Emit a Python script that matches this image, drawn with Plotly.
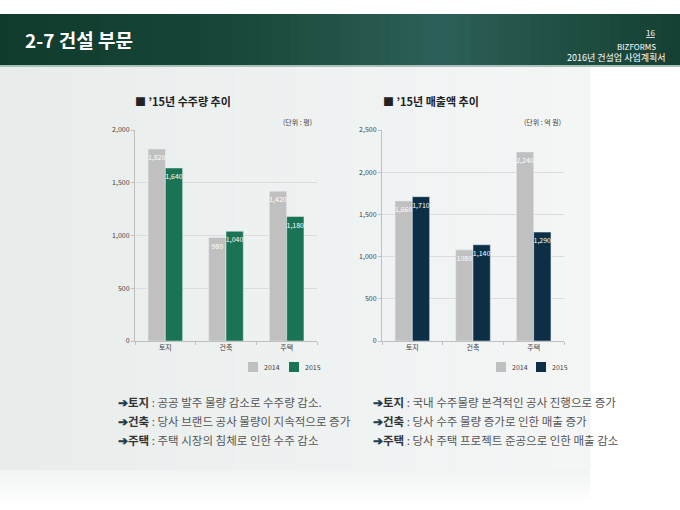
import plotly.graph_objects as go

# 데이터
categories = ["토지", "건축", "주택"]
series_names = ["2014", "2015"]
orders_2014 = [1820, 980, 1420]
orders_2015 = [1640, 1040, 1180]
sales_2014 = [1660, 1080, 2240]
sales_2015 = [1710, 1140, 1290]
orders_labels_2014 = ["1,820", "980", "1,420"]
orders_labels_2015 = ["1,640", "1,040", "1,180"]
sales_labels_2014 = ["1,660", "1080", "2,240"]
sales_labels_2015 = ["1,710", "1,140", "1,290"]

notes_left = [
    ("토지", "공공 발주 물량 감소로 수주량 감소."),
    ("건축", "당사 브랜드 공사 물량이 지속적으로 증가"),
    ("주택", "주택 시장의 침체로 인한 수주 감소"),
]
notes_right = [
    ("토지", "국내 수주물량 본격적인 공사 진행으로 증가"),
    ("건축", "당사 수주 물량 증가로 인한 매출 증가"),
    ("주택", "당사 주택 프로젝트 준공으로 인한 매출 감소"),
]

W, H = 680, 510
KR = "Noto Sans CJK KR"
GRAY = "#c0c0c0"
GREEN = "#1b7356"
NAVY = "#0d2f45"


def px(x):
    return x / W


def py(y):
    return 1 - y / H


fig = go.Figure()

bar_font = dict(family=KR, size=7, color="white")


def add_bars(values, labels, name, color, xa, ya):
    fig.add_trace(go.Bar(x=categories, y=values, name=name, marker_color=color,
                         text=labels, textposition="inside", insidetextanchor="end",
                         textangle=0, constraintext="none", textfont=bar_font,
                         xaxis=xa, yaxis=ya, showlegend=False, hoverinfo="x+y"))


add_bars(orders_2014, orders_labels_2014, series_names[0], GRAY, "x", "y")
add_bars(orders_2015, orders_labels_2015, series_names[1], GREEN, "x", "y")
add_bars(sales_2014, sales_labels_2014, series_names[0], GRAY, "x2", "y2")
add_bars(sales_2015, sales_labels_2015, series_names[1], NAVY, "x2", "y2")

xax = dict(showline=True, linecolor="#bfbfbf", linewidth=1, ticks="outside", tickson="boundaries",
           ticklen=3, tickcolor="#bfbfbf", tickfont=dict(family=KR, size=7, color="#404040"),
           showgrid=False, fixedrange=True, automargin=False)
yax = dict(showline=True, linecolor="#bfbfbf", linewidth=1, gridcolor="#dcdcdc", gridwidth=1,
           tickfont=dict(family=KR, size=7, color="#404040"), tickformat=",", zeroline=False,
           ticks="outside", ticklen=3, tickcolor="#bfbfbf", fixedrange=True, automargin=False)

fig.update_layout(
    width=W, height=H,
    margin=dict(l=0, r=0, t=0, b=0, pad=0),
    paper_bgcolor="white",
    plot_bgcolor="rgba(0,0,0,0)",
    barmode="group", bargap=0.43, bargroupgap=0,
    font=dict(family=KR),
    xaxis=dict(xax, domain=[px(135), px(317)], anchor="y"),
    yaxis=dict(yax, domain=[py(341), py(130)], range=[0, 2000], dtick=500, anchor="x"),
    xaxis2=dict(xax, domain=[px(382), px(564)], anchor="y2"),
    yaxis2=dict(yax, domain=[py(341), py(130)], range=[0, 2500], dtick=500, anchor="x2"),
)

shapes = []


def mix(c1, c2, t):
    return "#%02x%02x%02x" % tuple(int(round(a + (b - a) * t)) for a, b in zip(c1, c2))


# 배경 (연한 회색 그라데이션)
n = 30
for i in range(n):
    x0 = 590 * i / n
    x1 = 590 * (i + 1) / n
    t = i / (n - 1)
    col = mix((232, 237, 236), (244, 246, 246), t)
    shapes.append(dict(type="rect", xref="paper", yref="paper", x0=px(x0), x1=px(x1) + 0.001,
                       y0=py(470), y1=py(66), fillcolor=col, line_width=0, layer="below"))
for i in range(8):
    t = (i + 1) / 9
    col = mix((240, 243, 243), (255, 255, 255), t)
    shapes.append(dict(type="rect", xref="paper", yref="paper", x0=0, x1=px(590),
                       y0=py(470 + (i + 1) * 4), y1=py(470 + i * 4), fillcolor=col,
                       line_width=0, layer="below"))

# 헤더 그라데이션
stops = [(0, (16, 58, 44)), (0.35, (24, 72, 58)), (0.65, (45, 96, 88)), (0.85, (30, 78, 66)), (1.0, (22, 64, 52))]
m = 68
for i in range(m):
    t = i / (m - 1)
    for j in range(len(stops) - 1):
        if stops[j][0] <= t <= stops[j + 1][0]:
            tt = (t - stops[j][0]) / (stops[j + 1][0] - stops[j][0])
            col = mix(stops[j][1], stops[j + 1][1], tt)
            break
    shapes.append(dict(type="rect", xref="paper", yref="paper", x0=i / m, x1=(i + 1) / m + 0.002,
                       y0=py(65), y1=py(14), fillcolor=col, line_width=0, layer="below"))
shapes.append(dict(type="rect", xref="paper", yref="paper", x0=0, x1=1, y0=py(67), y1=py(65),
                   fillcolor="#a9c0ba", line_width=0, layer="below"))

annotations = [
    dict(text="<b>2-7 건설 부문</b>", x=px(23), y=py(40), xanchor="left", yanchor="middle",
         font=dict(family=KR, size=19, color="white")),
    dict(text="<u>16</u>", x=px(657), y=py(32), xanchor="right", yanchor="middle",
         font=dict(family=KR, size=8, color="white")),
    dict(text="BIZFORMS", x=px(658), y=py(46), xanchor="right", yanchor="middle",
         font=dict(family=KR, size=8, color="white")),
    dict(text="2016년 건설업 사업계획서", x=px(668), y=py(57), xanchor="right", yanchor="middle",
         font=dict(family=KR, size=9, color="white")),
    dict(text="<b>■ ’15년 수주량 추이</b>", x=px(133), y=py(101), xanchor="left", yanchor="middle",
         font=dict(family=KR, size=11, color="#222222")),
    dict(text="<b>■ ’15년 매출액 추이</b>", x=px(381), y=py(101), xanchor="left", yanchor="middle",
         font=dict(family=KR, size=11, color="#222222")),
    dict(text="(단위 : 평)", x=px(314), y=py(122), xanchor="right", yanchor="middle",
         font=dict(family=KR, size=7, color="#404040")),
    dict(text="(단위 : 억 원)", x=px(563), y=py(122), xanchor="right", yanchor="middle",
         font=dict(family=KR, size=7, color="#404040")),
]

# 범례 (수동)
legend_items = [
    (248, series_names[0], GRAY), (289, series_names[1], GREEN),
    (496, series_names[0], GRAY), (536, series_names[1], NAVY),
]
for lx, label, color in legend_items:
    shapes.append(dict(type="rect", xref="paper", yref="paper", x0=px(lx), x1=px(lx + 10),
                       y0=py(372), y1=py(362), fillcolor=color, line_width=0))
    annotations.append(dict(text=label, x=px(lx + 14), y=py(367), xanchor="left", yanchor="middle",
                            font=dict(family=KR, size=7, color="#404040")))

row_y = [402, 421, 440]
for col_x, notes in ((116, notes_left), (371, notes_right)):
    for (k, v), y in zip(notes, row_y):
        annotations.append(dict(
            text=f"<span style='color:#1e3c4c'><b>➔</b></span><b style='color:#333333'>{k}</b> : {v}",
            x=px(col_x), y=py(y), xanchor="left", yanchor="middle",
            font=dict(family=KR, size=11.5, color="#555555")))

for a in annotations:
    a.update(xref="paper", yref="paper", showarrow=False)

fig.update_layout(shapes=shapes, annotations=annotations)

fig.write_html("out.html", config={"displayModeBar": False},
               post_script="document.body.style.margin='0';")
